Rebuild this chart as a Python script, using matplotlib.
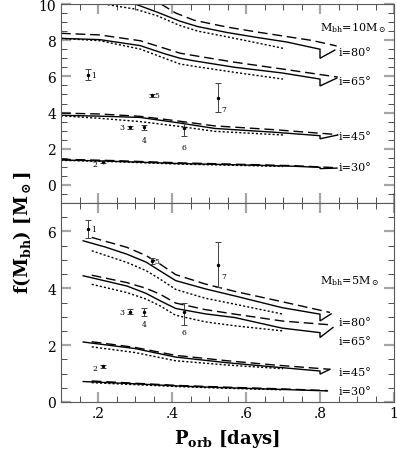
import numpy as np
import matplotlib
matplotlib.use('Agg')
import matplotlib.pyplot as plt
from matplotlib.ticker import MultipleLocator

plt.rcParams['font.family'] = 'DejaVu Serif'
plt.rcParams['mathtext.fontset'] = 'dejavuserif'

# orbital period grid / f(M) curves
# panel M_bh = 10 Msun : inclination -> style -> (P, f)
m10_curves = {
    80: {'solid': ([0.30, 0.36, 0.42, 0.47, 0.55, 0.63, 0.71, 0.80, 0.80, 0.84],
                   [10.0, 9.55, 9.06, 8.75, 8.42, 8.15, 7.9, 7.5, 7.0, 7.45]),
         'dashed': ([0.37, 0.41, 0.46, 0.55, 0.63, 0.71, 0.78, 0.845],
                    [10.0, 9.5, 9.1, 8.72, 8.45, 8.2, 7.98, 7.68]),
         'dotted': ([0.215, 0.30, 0.36, 0.42, 0.47, 0.55, 0.63, 0.70],
                    [10.0, 9.72, 9.35, 8.82, 8.5, 8.18, 7.85, 7.55])},
    65: {'solid': ([0.10, 0.205, 0.314, 0.38, 0.422, 0.462, 0.57, 0.697, 0.80, 0.80, 0.845],
                   [8.1, 8.03, 7.7, 7.25, 7.0, 6.85, 6.5, 6.19, 5.85, 5.47, 5.9]),
         'dashed': ([0.10, 0.205, 0.314, 0.38, 0.422, 0.462, 0.57, 0.697, 0.848],
                    [8.38, 8.29, 7.97, 7.55, 7.28, 7.14, 6.78, 6.41, 5.96]),
         'dotted': ([0.10, 0.205, 0.314, 0.38, 0.422, 0.462, 0.57, 0.70],
                    [8.1, 7.97, 7.51, 7.0, 6.68, 6.55, 6.22, 5.85])},
    45: {'solid': ([0.10, 0.205, 0.314, 0.418, 0.516, 0.678, 0.80, 0.80, 0.848],
                   [3.85, 3.8, 3.73, 3.43, 3.12, 2.91, 2.72, 2.55, 2.76]),
         'dashed': ([0.10, 0.205, 0.314, 0.41, 0.516, 0.678, 0.848],
                    [3.97, 3.92, 3.79, 3.55, 3.26, 3.05, 2.78]),
         'dotted': ([0.10, 0.205, 0.314, 0.418, 0.516, 0.70],
                    [3.82, 3.68, 3.5, 3.24, 2.96, 2.76])},
    30: {'solid': ([0.10, 0.25, 0.42, 0.60, 0.73, 0.80, 0.80, 0.846],
                   [1.38, 1.3, 1.18, 1.1, 1.03, 0.97, 0.9, 0.93]),
         'dashed': ([0.10, 0.25, 0.42, 0.60, 0.73, 0.846],
                    [1.42, 1.34, 1.22, 1.13, 1.06, 0.95]),
         'dotted': ([0.10, 0.25, 0.42, 0.60, 0.70],
                    [1.36, 1.28, 1.15, 1.07, 1.02])},
}

# panel M_bh = 5 Msun
m5_curves = {
    80: {'solid': ([0.16, 0.22, 0.278, 0.33, 0.368, 0.41, 0.49, 0.57, 0.697, 0.80, 0.80, 0.83],
                   [5.67, 5.45, 5.2, 4.92, 4.61, 4.27, 3.98, 3.73, 3.32, 3.09, 2.85, 3.1]),
         'dashed': ([0.183, 0.278, 0.33, 0.368, 0.41, 0.49, 0.57, 0.697, 0.827],
                    [5.79, 5.44, 5.15, 4.85, 4.48, 4.15, 3.89, 3.53, 3.15]),
         'dotted': ([0.183, 0.278, 0.33, 0.368, 0.41, 0.49, 0.57, 0.70],
                    [5.32, 4.91, 4.62, 4.32, 3.96, 3.65, 3.44, 3.09])},
    65: {'solid': ([0.16, 0.278, 0.33, 0.368, 0.41, 0.49, 0.57, 0.697, 0.80, 0.80, 0.835],
                   [4.44, 4.08, 3.82, 3.56, 3.29, 3.1, 2.97, 2.6, 2.44, 2.27, 2.62]),
         'dashed': ([0.183, 0.278, 0.33, 0.368, 0.41, 0.49, 0.57, 0.697, 0.832],
                    [4.46, 4.2, 4.0, 3.79, 3.48, 3.25, 3.09, 2.85, 2.71]),
         'dotted': ([0.183, 0.278, 0.33, 0.368, 0.41, 0.49, 0.57, 0.70],
                    [4.14, 3.85, 3.62, 3.38, 3.05, 2.82, 2.68, 2.5])},
    45: {'solid': ([0.16, 0.30, 0.41, 0.55, 0.678, 0.80, 0.80, 0.827],
                   [2.11, 1.88, 1.58, 1.38, 1.23, 1.09, 0.98, 1.15]),
         'dashed': ([0.183, 0.30, 0.41, 0.55, 0.678, 0.827],
                    [2.12, 1.92, 1.64, 1.45, 1.3, 1.15]),
         'dotted': ([0.183, 0.30, 0.41, 0.55, 0.70],
                    [1.94, 1.74, 1.45, 1.3, 1.17])},
    30: {'solid': ([0.16, 0.30, 0.42, 0.55, 0.70, 0.82],
                   [0.72, 0.64, 0.56, 0.5, 0.44, 0.39]),
         'dashed': ([0.183, 0.30, 0.42, 0.55, 0.70, 0.82],
                    [0.74, 0.66, 0.58, 0.52, 0.46, 0.40]),
         'dotted': ([0.183, 0.30, 0.42, 0.55, 0.70],
                    [0.68, 0.61, 0.54, 0.48, 0.43])},
}

# observed systems
obs_id = ['1', '2', '3', '4', '5', '6', '7']
obs_p = [0.174, 0.213, 0.286, 0.324, 0.345, 0.433, 0.524]
obs_f = [6.08, 1.25, 3.18, 3.18, 4.95, 3.15, 4.82]
obs_lo = [5.78, 1.19, 3.10, 3.03, 4.87, 2.70, 4.05]
obs_hi = [6.40, 1.31, 3.28, 3.32, 5.05, 3.47, 5.64]
# label offsets (points)
obs_dx = [4, -6, -6, 0, 4, 0, 4]
obs_dy = [0, -1, 0, -9, 0, -14, -8]

incl = [80, 65, 45, 30]
m10_label_y = [7.35, 5.74, 2.70, 0.99]
m5_label_y = [2.81, 2.13, 1.04, 0.38]

styles = {'solid': dict(ls='-', lw=1.0),
          'dashed': dict(ls=(0, (7, 3.5)), lw=1.0),
          'dotted': dict(ls=(0, (1.5, 1.5)), lw=1.0)}

fig = plt.figure(figsize=(3.97, 4.52), dpi=100)
W, H = 397.0, 452.0
ax1 = fig.add_axes([61 / W, 1 - 204 / H, 333 / W, 199 / H])
ax2 = fig.add_axes([61 / W, 1 - 403 / H, 333 / W, 199 / H])


def draw_panel(ax, curves, label_y, mtext, mtext_y):
    for i in incl:
        for st in ['dashed', 'solid', 'dotted']:
            p, f = curves[i][st]
            ax.plot(p, f, color='k', solid_joinstyle='miter', **styles[st])
    for i, y in zip(incl, label_y):
        ax.text(0.849, y, 'i=%d°' % i, fontsize=8, va='center', ha='left')
    ax.text(0.80, mtext_y, mtext, fontsize=8, va='center', ha='left')

    yerr = [np.array(obs_f) - np.array(obs_lo), np.array(obs_hi) - np.array(obs_f)]
    ax.errorbar(obs_p, obs_f, yerr=yerr, fmt='o', ms=1.5, color='k',
                ecolor='0.25', elinewidth=0.7, capsize=2, capthick=0.7)
    for s, x, y, dx, dy in zip(obs_id, obs_p, obs_f, obs_dx, obs_dy):
        ax.annotate(s, (x, y), xytext=(dx, dy), textcoords='offset points',
                    fontsize=5.5, ha='center', va='center')

    ax.set_xlim(0.1, 1.0)
    ax.xaxis.set_major_locator(MultipleLocator(0.2))
    ax.xaxis.set_minor_locator(MultipleLocator(0.05))
    ax.yaxis.set_major_locator(MultipleLocator(2))
    ax.yaxis.set_minor_locator(MultipleLocator(0.5))
    ax.tick_params(which='both', direction='in', top=True, right=True, labelsize=10)
    ax.tick_params(which='major', length=7, width=1.6, color='0.65')
    ax.tick_params(which='minor', length=4, width=0.6, color='0.2')
    for sp in ax.spines.values():
        sp.set_color('0.35')
        sp.set_linewidth(0.8)


draw_panel(ax1, m10_curves, m10_label_y, r'M$_{\rm bh}$=10M$_\odot$', 8.73)
ax1.set_ylim(-1, 10)
ax1.tick_params(labelbottom=False)

draw_panel(ax2, m5_curves, m5_label_y, r'M$_{\rm bh}$=5M$_\odot$', 4.28)
ax2.set_ylim(0, 7)
ax2.set_xticks([0.2, 0.4, 0.6, 0.8, 1.0])
ax2.set_xticklabels(['.2', '.4', '.6', '.8', '1'])
ax2.tick_params(axis='x', pad=3)

fig.text(227 / W, 1 - 439 / H, r'$\mathbf{P_{orb}}$ [days]', fontsize=13,
         fontweight='bold', ha='center', va='center')
fig.text(22 / W, 1 - 233 / H, r'$\mathbf{f(M_{bh})}$ [$\mathbf{M_\odot}$]', rotation=90,
         fontsize=13, fontweight='bold', ha='center', va='center')

fig.savefig('out.png', dpi=100)
